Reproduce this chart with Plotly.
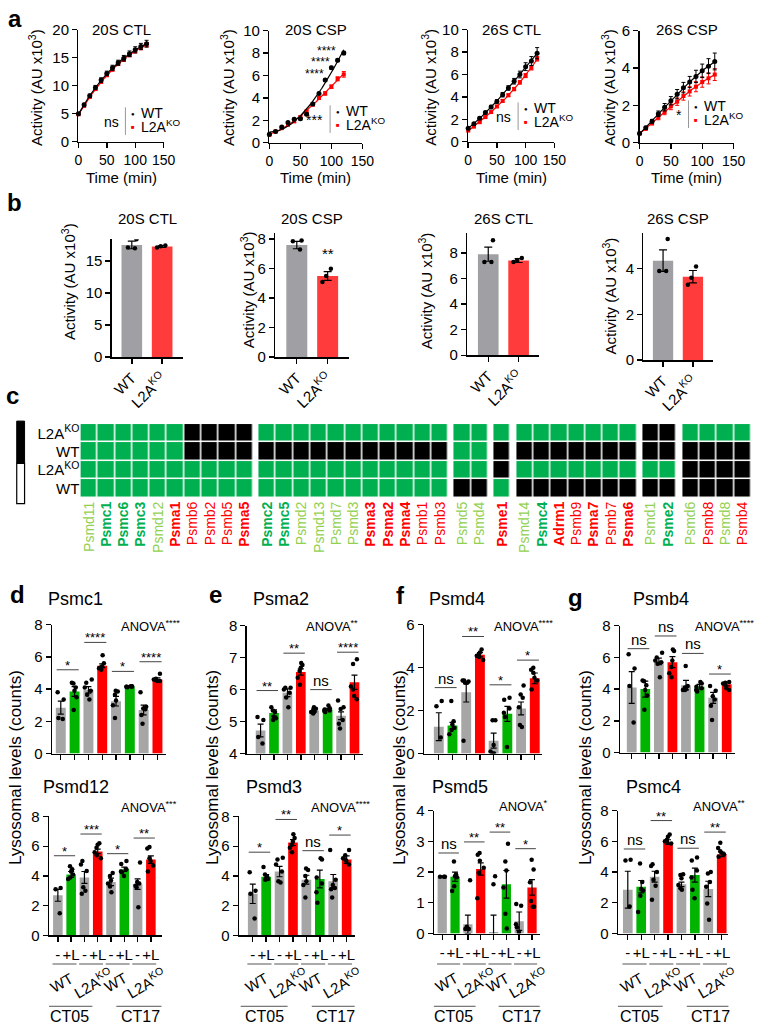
import numpy as np
import plotly.graph_objects as go

W, H = 772, 1032
FONT = "Arial, Liberation Sans, sans-serif"
GRAY, GREEN, RED, LGREEN = "#a6a6a6", "#00b050", "#ff0000", "#92d050"
BGRAY, BRED = "#a0a0a4", "#ff3b3b"

# ---------- a: proteasome activity kinetics (AU x10^3)
time_min = [0, 10, 20, 30, 40, 50, 60, 70, 80, 90, 100, 110, 120]

ctl20_wt = [5.0, 6.6, 8.2, 9.7, 11.0, 12.2, 13.2, 14.1, 14.9, 15.7, 16.4, 17.0, 17.5]
ctl20_wt_sem = [0.2, 0.25, 0.3, 0.35, 0.4, 0.4, 0.45, 0.45, 0.5, 0.5, 0.55, 0.55, 0.6]
ctl20_ko = [4.9, 6.4, 8.0, 9.4, 10.7, 11.9, 12.9, 13.9, 14.7, 15.5, 16.2, 16.8, 17.3]
ctl20_ko_sem = [0.15, 0.2, 0.2, 0.25, 0.25, 0.3, 0.3, 0.3, 0.35, 0.35, 0.35, 0.4, 0.4]

csp20_wt = [0.75, 1.0, 1.4, 1.8, 2.1, 2.15, 2.55, 3.45, 4.4, 5.6, 6.7, 7.35, 8.0]
csp20_wt_sem = [0.05, 0.05, 0.08, 0.08, 0.1, 0.1, 0.12, 0.12, 0.1, 0.1, 0.12, 0.12, 0.15]
csp20_ko = [0.7, 1.0, 1.3, 1.6, 1.9, 2.3, 2.8, 3.4, 4.0, 4.4, 5.0, 5.7, 6.1]
csp20_ko_sem = [0.05, 0.05, 0.05, 0.08, 0.08, 0.1, 0.1, 0.1, 0.12, 0.15, 0.15, 0.18, 0.25]
csp20_star_t = [92, 82, 73]
csp20_star_y = [8.2, 7.2, 6.1]

ctl26_wt = [1.2, 1.6, 2.1, 2.6, 3.1, 3.6, 4.2, 4.8, 5.4, 6.0, 6.7, 7.2, 7.9]
ctl26_wt_sem = [0.05, 0.08, 0.1, 0.12, 0.15, 0.15, 0.2, 0.2, 0.25, 0.3, 0.35, 0.4, 0.5]
ctl26_ko = [1.0, 1.35, 1.75, 2.2, 2.65, 3.15, 3.65, 4.15, 4.7, 5.3, 5.9, 6.6, 7.4]
ctl26_ko_sem = [0.05, 0.05, 0.08, 0.08, 0.1, 0.1, 0.12, 0.12, 0.15, 0.15, 0.18, 0.2, 0.2]

csp26_wt = [0.5, 0.8, 1.15, 1.55, 1.9, 2.25, 2.6, 2.95, 3.25, 3.55, 3.85, 4.1, 4.35]
csp26_wt_sem = [0.05, 0.08, 0.1, 0.15, 0.2, 0.22, 0.25, 0.28, 0.3, 0.33, 0.36, 0.4, 0.45]
csp26_ko = [0.5, 0.75, 1.05, 1.35, 1.65, 1.95, 2.2, 2.5, 2.75, 3.0, 3.25, 3.45, 3.65]
csp26_ko_sem = [0.05, 0.07, 0.1, 0.12, 0.15, 0.18, 0.2, 0.22, 0.25, 0.27, 0.28, 0.3, 0.32]

# ---------- b: activity at end point
geno = ["WT", "L2A<sup>KO</sup>"]
b_ctl20 = [17.5, 17.25]
b_ctl20_sem = [0.6, 0.15]
b_ctl20_pts = [[18.4, 17.1, 17.0], [17.4, 17.3, 17.1]]
b_csp20 = [7.6, 5.5]
b_csp20_sem = [0.25, 0.3]
b_csp20_pts = [[7.9, 7.85, 7.3], [6.0, 5.5, 5.1]]
b_ctl26 = [7.9, 7.4]
b_ctl26_sem = [0.55, 0.15]
b_ctl26_pts = [[9.0, 7.3, 7.3], [7.6, 7.45, 7.3]]
b_csp26 = [4.35, 3.65]
b_csp26_sem = [0.47, 0.27]
b_csp26_pts = [[5.3, 3.9, 3.9], [4.1, 3.6, 3.3]]

# ---------- c: heatmap (1 = green, 0 = black)
genes = ["Psmd11", "Psmc1", "Psmc6", "Psmc3", "Psmd12", "Psma1", "Psmb6", "Psmb2", "Psmb5", "Psma5",
         "Psmc2", "Psmc5", "Psmd2", "Psmd13", "Psmd7", "Psmd3", "Psma3", "Psma2", "Psma4", "Psmb1", "Psmb3",
         "Psmd5", "Psmd4", "Psme1",
         "Psmd14", "Psmc4", "Adrm1", "Psmb9", "Psma7", "Psmb7", "Psma6",
         "Psmd1", "Psme2", "Psmd6", "Psmb8", "Psmd8", "Psmb4"]
gene_style = ["lg", "G", "G", "G", "lg", "R", "r", "r", "r", "R",
              "G", "G", "lg", "lg", "lg", "lg", "R", "R", "R", "r", "r",
              "lg", "lg", "R",
              "lg", "G", "R", "r", "R", "r", "R",
              "lg", "G", "lg", "r", "lg", "r"]
group_sizes = [10, 11, 2, 1, 7, 2, 4]
hm_row_labels = ["L2A<sup>KO</sup>", "WT", "L2A<sup>KO</sup>", "WT"]
hm_r1 = [1, 1, 1, 1, 1, 1, 0, 0, 0, 0, 1, 1, 1, 1, 1, 1, 1, 1, 1, 1, 1, 1, 1, 1,
         1, 1, 1, 1, 1, 1, 1, 0, 0, 1, 1, 1, 1]
hm_r2 = [1, 1, 1, 1, 1, 1, 0, 0, 0, 0, 0, 0, 0, 0, 0, 0, 0, 0, 0, 0, 0, 1, 1, 0,
         0, 0, 0, 0, 0, 0, 0, 0, 0, 0, 0, 0, 0]
hm_r3 = [1, 1, 1, 1, 1, 1, 1, 1, 1, 1, 1, 1, 1, 1, 1, 1, 1, 1, 1, 1, 1, 1, 1, 0,
         1, 1, 1, 1, 1, 1, 1, 1, 1, 0, 0, 0, 0]
hm_r4 = [1, 1, 1, 1, 1, 1, 1, 1, 1, 1, 1, 1, 1, 1, 1, 1, 1, 1, 1, 1, 1, 0, 0, 1,
         0, 0, 0, 0, 0, 0, 0, 0, 0, 0, 0, 0, 0]

# ---------- d-g: lysosomal levels (counts)
treat = ["-", "+L"] * 4
pairs = ["WT", "L2A<sup>KO</sup>"] * 2
timepoints = ["CT05", "CT17"]

psmc1_mean = [2.85, 3.85, 3.95, 5.45, 3.25, 4.15, 2.7, 4.6]
psmc1_sem = [0.4, 0.3, 0.2, 0.12, 0.3, 0.03, 0.3, 0.1]
psmc1_pts = [[3.8, 3.35, 2.2, 2.15], [4.4, 4.35, 4.1, 3.9, 3.5, 2.7], [4.6, 4.4, 4.1, 3.9, 3.65, 3.35],
             [6.1, 5.6, 5.4, 5.35, 5.3, 5.2], [3.9, 3.85, 3.65, 3.3, 3.0, 2.2], [4.18, 4.15, 4.15, 4.12, 4.15, 4.17],
             [3.8, 2.9, 2.8, 2.75, 2.4, 1.85], [4.95, 4.65, 4.6, 4.55, 4.5, 4.5]]
psmc1_sig_y = [5.2, 6.9, 5.1, 5.7]
psmc1_sig = ["*", "****", "*", "****"]

psma2_mean = [4.72, 5.27, 5.9, 6.55, 5.35, 5.38, 5.18, 6.23]
psma2_sem = [0.2, 0.1, 0.12, 0.1, 0.05, 0.03, 0.12, 0.22]
psma2_pts = [[5.14, 5.05, 4.52, 4.31], [5.45, 5.35, 5.3, 5.15, 5.1, 5.05], [6.06, 6.06, 6.0, 5.9, 5.75, 5.45],
             [6.83, 6.77, 6.68, 6.58, 6.37, 6.15], [5.45, 5.4, 5.35, 5.3, 5.3, 5.25], [5.5, 5.42, 5.38, 5.35, 5.33, 5.3],
             [5.66, 5.45, 5.39, 5.05, 4.93, 4.78], [6.95, 6.8, 6.1, 6.0, 5.8, 5.7]]
psma2_sig_y = [5.97, 7.14, 6.0, 7.17]
psma2_sig = ["**", "**", "ns", "****"]

psmd4_mean = [1.25, 1.3, 2.85, 4.6, 0.6, 1.85, 2.1, 3.5]
psmd4_sem = [0.65, 0.15, 0.45, 0.1, 0.35, 0.35, 0.3, 0.25]
psmd4_pts = [[2.45, 2.2, 0.75], [2.45, 1.5, 1.35, 1.2, 1.1, 0.9], [3.4, 3.4, 3.35, 3.3, 3.3, 0.6],
             [4.85, 4.7, 4.6, 4.55, 4.5, 4.35], [1.55, 1.55, 0.4, 0.1, 0.0, 0.0], [2.6, 2.5, 2.1, 1.9, 1.7, 0.3],
             [3.17, 2.75, 2.6, 2.15, 1.33, 1.24], [4.0, 3.9, 3.76, 3.53, 3.4, 2.98]]
psmd4_sig_y = [3.07, 5.45, 3.2, 4.35]
psmd4_sig = ["ns", "**", "*", "*"]

psmb4_mean = [4.1, 4.0, 5.75, 5.7, 4.25, 4.15, 3.45, 4.3]
psmb4_sem = [1.0, 0.5, 0.2, 0.35, 0.3, 0.15, 0.35, 0.1]
psmb4_pts = [[6.2, 5.3, 4.2, 1.9], [4.55, 4.5, 4.25, 3.95, 3.6, 2.7], [6.3, 6.0, 5.8, 5.7, 5.6, 4.75],
             [6.5, 6.4, 5.8, 5.4, 5.0, 4.75], [5.45, 4.2, 4.1, 4.0, 3.95, 3.95], [4.45, 4.35, 4.15, 4.05, 3.95, 3.85],
             [4.2, 3.9, 3.55, 3.35, 2.95, 2.05], [4.45, 4.4, 4.35, 4.25, 4.05, 3.95]]
psmb4_sig_y = [6.55, 7.35, 6.25, 4.95]
psmb4_sig = ["ns", "ns", "ns", "*"]

psmd12_mean = [2.7, 4.1, 3.9, 5.65, 3.6, 4.45, 3.45, 5.1]
psmd12_sem = [0.4, 0.2, 0.4, 0.15, 0.25, 0.15, 0.35, 0.25]
psmd12_pts = [[3.2, 3.1, 1.5], [4.65, 4.45, 4.3, 4.1, 3.9, 3.8], [5.0, 4.77, 4.33, 3.24, 3.0, 2.8],
              [6.2, 6.1, 5.9, 5.6, 5.4, 5.2], [4.2, 4.0, 3.7, 3.5, 3.3, 2.9], [5.0, 4.8, 4.45, 4.3, 4.25, 4.0],
              [4.9, 3.6, 3.5, 3.35, 3.25, 1.9], [5.95, 5.85, 5.2, 5.0, 4.7, 4.3]]
psmd12_sig_y = [5.36, 6.82, 5.5, 6.55]
psmd12_sig = ["*", "***", "*", "**"]

psmd3_mean = [2.8, 3.95, 4.3, 6.25, 3.75, 3.8, 3.65, 5.1]
psmd3_sem = [0.65, 0.15, 0.35, 0.2, 0.3, 0.6, 0.45, 0.25]
psmd3_pts = [[4.25, 3.0, 2.8, 1.15], [4.6, 4.1, 3.95, 3.85, 3.8, 3.75], [5.23, 5.1, 4.77, 4.3, 3.65, 3.57],
             [6.8, 6.55, 6.3, 6.1, 5.9, 5.6], [4.5, 4.4, 4.0, 3.65, 3.4, 2.55], [5.2, 5.1, 3.9, 3.5, 2.9, 2.2],
             [5.75, 3.75, 3.4, 3.2, 3.1, 2.55], [5.75, 5.4, 5.2, 5.1, 5.0, 4.77]]
psmd3_sig_y = [5.6, 7.8, 5.7, 6.75]
psmd3_sig = ["*", "**", "ns", "*"]

psmd5_mean = [1.85, 1.85, 0.3, 2.1, 0.05, 1.6, 0.4, 1.5]
psmd5_sem = [0.02, 0.15, 0.3, 0.2, 0.55, 0.45, 0.3, 0.25]
psmd5_pts = [[1.85, 1.85, 1.85], [2.34, 1.92, 1.86, 1.83, 1.54, 1.38], [1.73, 0.22, 0.15, 0.15],
             [2.62, 2.56, 2.37, 2.14, 1.98, 1.15], [1.86, 1.6], [2.92, 2.34, 2.05, 1.5, 0.64, 0.16],
             [0.96, 0.9, 0.3, 0.2, 0.05], [2.4, 2.08, 1.67, 1.06, 0.87, 0.87]]
psmd5_sig_y = [2.62, 2.98, 3.3, 2.76]
psmd5_sig = ["ns", "**", "**", "*"]

psmc4_mean = [2.85, 3.05, 3.7, 5.95, 3.2, 3.8, 2.9, 5.15]
psmc4_sem = [1.2, 0.4, 0.35, 0.15, 0.15, 0.45, 0.5, 0.15]
psmc4_pts = [[4.8, 4.75, 1.75], [4.55, 3.35, 2.9, 2.8, 2.45, 1.4], [4.5, 4.4, 4.0, 3.5, 3.1, 2.2],
             [6.45, 6.3, 6.1, 6.0, 5.95, 5.85], [3.85, 3.8, 3.6, 3.15, 2.95, 2.85], [4.95, 4.75, 4.1, 3.65, 2.85, 2.3],
             [4.0, 3.9, 3.35, 3.05, 1.95, 0.9], [5.9, 5.57, 5.35, 5.25, 5.15, 5.0]]
psmc4_sig_y = [5.5, 7.35, 5.55, 6.6]
psmc4_sig = ["ns", "**", "ns", "**"]

fig = go.Figure()

AX = dict(showline=True, linecolor="black", linewidth=1.4, ticks="outside", ticklen=5,
          tickwidth=1.4, tickcolor="black", showgrid=False, zeroline=False,
          tickfont=dict(size=15, color="black"))


def add_axes(n, xpx, ypx, xrange, yrange, xopt=None, yopt=None):
    s = "" if n == 1 else str(n)
    xa = dict(AX, domain=[xpx[0] / W, xpx[1] / W], range=xrange, anchor="y" + s)
    ya = dict(AX, domain=[1 - ypx[1] / H, 1 - ypx[0] / H], range=yrange, anchor="x" + s)
    xa.update(xopt or {})
    ya.update(yopt or {})
    fig.update_layout({"xaxis" + s: xa, "yaxis" + s: ya})
    return "x" + s, "y" + s


def note(px, py, s, size=15, color="black", **kw):
    kw.setdefault("xanchor", "center")
    kw.setdefault("yanchor", "middle")
    fig.add_annotation(x=px / W, y=1 - py / H, xref="paper", yref="paper", text=s,
                       showarrow=False, font=dict(size=size, color=color), **kw)


def seg(x0, y0, x1, y1, color="black", width=1.2):
    fig.add_shape(type="line", xref="paper", yref="paper", x0=x0 / W, x1=x1 / W,
                  y0=1 - y0 / H, y1=1 - y1 / H, line=dict(color=color, width=width))


def dots(xr, yr, pts, width, jitter, size=4.5):
    xs = [i for i, p in enumerate(pts) for _ in p]
    ys = [v for p in pts for v in p]
    fig.add_trace(go.Box(x=xs, y=ys, boxpoints="all", jitter=jitter, pointpos=0, width=width,
                         fillcolor="rgba(0,0,0,0)", line=dict(width=0, color="rgba(0,0,0,0)"),
                         marker=dict(color="black", size=size), xaxis=xr, yaxis=yr, hoverinfo="skip"))


# ---------- panel a
a_panels = [
    ("20S CTL", ctl20_wt, ctl20_wt_sem, ctl20_ko, ctl20_ko_sem, 20, 5, "ns"),
    ("20S CSP", csp20_wt, csp20_wt_sem, csp20_ko, csp20_ko_sem, 10, 2, "***"),
    ("26S CTL", ctl26_wt, ctl26_wt_sem, ctl26_ko, ctl26_ko_sem, 10, 2, "ns"),
    ("26S CSP", csp26_wt, csp26_wt_sem, csp26_ko, csp26_ko_sem, 6, 2, "*"),
]
a_xpx = [(76, 163), (271, 366), (474, 562), (649, 745)]
a_ypx = [(21, 135), (22, 136), (21, 135), (22, 136)]
a_ytitle_x = [32, 228, 434, 617]
a_key = [(124, 100), (333, 98), (525, 95), (699, 93)]

t = np.array(time_min, dtype=float)
tt = np.linspace(0, 120, 81)
for k, (title, wt, wte, ko, koe, ymax, dt, sig) in enumerate(a_panels):
    xr, yr = add_axes(k + 1, a_xpx[k], a_ypx[k], [0, 150], [0, ymax],
                      dict(dtick=50, tick0=0, tickangle=0, tickfont=dict(size=14)), dict(dtick=dt, tick0=0))
    for vals, err, col, sym, sz in ((ko, koe, RED, "square", 4), (wt, wte, "black", "circle", 5)):
        fit = np.polyval(np.polyfit(t, vals, 3), tt)
        fig.add_trace(go.Scatter(x=tt, y=fit, mode="lines", line=dict(color=col, width=1.2),
                                 xaxis=xr, yaxis=yr, hoverinfo="skip"))
        fig.add_trace(go.Scatter(x=time_min, y=vals, mode="markers",
                                 marker=dict(color=col, size=sz, symbol=sym),
                                 error_y=dict(type="data", array=err, color=col, thickness=1, width=2),
                                 cliponaxis=False, xaxis=xr, yaxis=yr))
    cx = sum(a_xpx[k]) / 2
    note(cx, 21, title)
    note(cx, 171, "Time (min)")
    note(a_ytitle_x[k], 80, "Activity (AU x10<sup>3</sup>)", textangle=-90)
    lx, ly = a_key[k]
    seg(lx, ly, lx, ly + 28, color="#999999", width=1)
    note(lx - 5, ly + 15, sig, xanchor="right", size=14)
    note(lx + 8, ly + 7, "●", size=6)
    note(lx + 8, ly + 20, "■", size=6, color=RED)
    note(lx + 14, ly + 6, "WT", xanchor="left", size=14)
    note(lx + 14, ly + 19, "L2A<sup>KO</sup>", xanchor="left", size=14)

for st, sy in zip(csp20_star_t, csp20_star_y):
    fig.add_annotation(x=st, y=sy, xref="x2", yref="y2", text="****", showarrow=False,
                       xanchor="center", yanchor="middle", font=dict(size=12, color="black"))

# ---------- panel b
b_panels = [
    ("20S CTL", b_ctl20, b_ctl20_sem, b_ctl20_pts, 18.4, 5),
    ("20S CSP", b_csp20, b_csp20_sem, b_csp20_pts, 8.4, 2),
    ("26S CTL", b_ctl26, b_ctl26_sem, b_ctl26_pts, 9.54, 2),
    ("26S CSP", b_csp26, b_csp26_sem, b_csp26_pts, 5.55, 2),
]
b_ypx = [(234, 354), (228, 354), (228, 352), (228, 357)]
b_left = [110, 277, 473, 653]
b_c0 = [130.5, 299, 494.5, 673]
b_step = [31, 31.5, 31, 30.5]
b_ytitle = [(66, 277), (248, 285), (430, 287), (618, 292)]
for k, (title, vals, sem, pts, ymax, dt) in enumerate(b_panels):
    lo = (b_left[k] - b_c0[k]) / b_step[k]
    hi = 1.68
    right = b_left[k] + (hi - lo) * b_step[k]
    xr, yr = add_axes(5 + k, (b_left[k], right), b_ypx[k], [lo, hi], [0, ymax],
                      dict(tickvals=[0, 1], ticktext=geno, tickangle=-45),
                      dict(dtick=dt, tick0=0))
    fig.add_trace(go.Bar(x=[0, 1], y=vals, width=0.68, marker=dict(color=[BGRAY, BRED], line=dict(width=0)),
                         error_y=dict(type="data", array=sem, color="black", thickness=1.2, width=4),
                         xaxis=xr, yaxis=yr))
    dots(xr, yr, pts, 0.5, 0.8)
    note((b_left[k] + right) / 2, 213, title)
    note(b_ytitle[k][0], b_ytitle[k][1], "Activity (AU x10<sup>3</sup>)", textangle=-90)
fig.add_annotation(x=1, y=7.0, xref="x6", yref="y6", text="**", showarrow=False,
                   xanchor="center", yanchor="middle", font=dict(size=15, color="black"))

# ---------- panel c (heatmap)
GAP = 0.3
rows_bottom_up = [hm_r4, hm_r3, hm_r2, hm_r1]
z = [[] for _ in rows_bottom_up]
edges = [0.0]
centers = []
col = 0
for g, size in enumerate(group_sizes):
    if g > 0:
        for r in z:
            r.append(None)
        edges.append(edges[-1] + GAP)
    for _ in range(size):
        for r, src in zip(z, rows_bottom_up):
            r.append(src[col])
        centers.append(edges[-1] + 0.5)
        edges.append(edges[-1] + 1)
        col += 1

style_map = {"lg": (LGREEN, False), "G": (GREEN, True), "R": (RED, True), "r": (RED, False)}
gene_text = []
for name, st in zip(genes, gene_style):
    c, bold = style_map[st]
    s = f'<span style="color:{c}">{name}</span>'
    gene_text.append(f"<b>{s}</b>" if bold else s)

xr, yr = add_axes(9, (78, 763), (422, 497), [0, edges[-1]], [-0.5, 3.5],
                  dict(showline=False, ticks="", tickvals=centers, ticktext=gene_text, tickangle=-90,
                       tickfont=dict(size=14)),
                  dict(showline=False, ticks="", tickvals=[0, 1, 2, 3], ticktext=hm_row_labels[::-1],
                       tickfont=dict(size=15)))
fig.add_trace(go.Heatmap(x=edges, y=[-0.5, 0.5, 1.5, 2.5, 3.5], z=z, zmin=0, zmax=1,
                         colorscale=[[0, "black"], [0.5, "black"], [0.5, GREEN], [1, GREEN]],
                         showscale=False, xgap=1.5, ygap=1.5, xaxis=xr, yaxis=yr, hoverinfo="skip"))
fig.add_shape(type="rect", xref="paper", yref="paper", x0=13 / W, x1=21 / W, y0=1 - 462 / H, y1=1 - 419 / H,
              fillcolor="black", line=dict(color="black", width=1))
fig.add_shape(type="rect", xref="paper", yref="paper", x0=13 / W, x1=21 / W, y0=1 - 503 / H, y1=1 - 462 / H,
              fillcolor="white", line=dict(color="black", width=1.2))

# ---------- panels d-g
dg_panels = [
    ("Psmc1", psmc1_mean, psmc1_sem, psmc1_pts, psmc1_sig_y, psmc1_sig, "****", [0, 8], 2),
    ("Psma2", psma2_mean, psma2_sem, psma2_pts, psma2_sig_y, psma2_sig, "**", [4, 8], 1),
    ("Psmd4", psmd4_mean, psmd4_sem, psmd4_pts, psmd4_sig_y, psmd4_sig, "****", [0, 6], 2),
    ("Psmb4", psmb4_mean, psmb4_sem, psmb4_pts, psmb4_sig_y, psmb4_sig, "****", [0, 8], 2),
    ("Psmd12", psmd12_mean, psmd12_sem, psmd12_pts, psmd12_sig_y, psmd12_sig, "***", [0, 8], 2),
    ("Psmd3", psmd3_mean, psmd3_sem, psmd3_pts, psmd3_sig_y, psmd3_sig, "****", [0, 8], 2),
    ("Psmd5", psmd5_mean, psmd5_sem, psmd5_pts, psmd5_sig_y, psmd5_sig, "*", [0, 4], 1),
    ("Psmc4", psmc4_mean, psmc4_sem, psmc4_pts, psmc4_sig_y, psmc4_sig, "**", [0, 8], 2),
]
# left px, first bar px, step px, right limit, y top px, y bottom px, title xy, anova xy
dg_geom = [
    (49, 58, 14.1, 7.6, 626, 757, (43, 600), (150, 627)),
    (248, 262, 13.7, 7.6, 627, 757, (252, 600), (335, 627)),
    (429, 444, 14.0, 7.5, 626, 757, (432, 600), (530, 627)),
    (629, 641, 13.86, 7.6, 627, 756, (640, 600), (736, 627)),
    (46, 55, 13.57, 7.8, 821, 942, (38, 791), (148, 811)),
    (240, 254, 13.7, 7.6, 821, 942, (245, 791), (344, 811)),
    (439, 447.5, 13.1, 7.6, 815, 940, (435, 791), (531, 810)),
    (627, 637, 13.7, 7.5, 815, 940, (633, 791), (730, 810)),
]
bar_cols = [GRAY, "#00b400", GRAY, RED] * 2

for k, (title, mean, sem, pts, sig_y, sig, anova, yrange, dt) in enumerate(dg_panels):
    left, c0, step, hi, ytop, ybot, tpos, apos = dg_geom[k]
    lo = (left - c0) / step
    right = left + (hi - lo) * step
    bottom = k >= 4
    xopt = dict(tickvals=list(range(8)), ticktext=treat, showticklabels=bottom, tickangle=0)
    xr, yr = add_axes(10 + k, (left, right), (ytop, ybot), [lo, hi], yrange, xopt,
                      dict(dtick=dt, tick0=0))
    fig.add_trace(go.Bar(x=list(range(8)), y=mean, width=0.72, marker=dict(color=bar_cols, line=dict(width=0)),
                         error_y=dict(type="data", array=sem, color="black", thickness=1.2, width=3),
                         xaxis=xr, yaxis=yr))
    dots(xr, yr, pts, 0.6, 0.9, size=4.5)
    for p, (yv, lab) in enumerate(zip(sig_y, sig)):
        c = 2 * p + 0.5
        fig.add_shape(type="line", xref=xr, yref=yr, x0=c - 0.8, x1=c + 0.8, y0=yv, y1=yv,
                      line=dict(color="#444444", width=1))
        star = lab != "ns"
        fig.add_annotation(x=c, y=yv, xref=xr, yref=yr, text=lab, showarrow=False,
                           xanchor="center", yanchor="bottom",
                           yshift=-5 if star else -1, font=dict(size=13 if star else 15, color="black"))
    note(tpos[0], tpos[1], title, size=18, xanchor="left")
    note(apos[0], apos[1], f"ANOVA<sup>{anova}</sup>", size=13)
    if bottom:
        for p in range(4):
            c = 2 * p + 0.5
            fig.add_shape(type="line", xref=xr, yref="paper", x0=c - 0.9, x1=c + 0.9,
                          y0=1 - 971 / H, y1=1 - 971 / H, line=dict(color="#555555", width=1))
            fig.add_annotation(x=c + (-0.2 if p % 2 == 0 else 0.15), y=1 - 990 / H, xref=xr, yref="paper",
                               text=pairs[p], textangle=-30, showarrow=False,
                               xanchor="center", yanchor="middle",
                               font=dict(size=15, color="black"))
        for (x0, x1), lab in zip(((-0.9, 2.6), (4.4, 8.0)), timepoints):
            fig.add_shape(type="line", xref=xr, yref="paper", x0=x0, x1=x1,
                          y0=1 - 1014 / H, y1=1 - 1014 / H, line=dict(color="#555555", width=1))
            fig.add_annotation(x=(x0 + x1) / 2, y=1 - 1024 / H, xref=xr, yref="paper", text=lab,
                               showarrow=False, xanchor="center", yanchor="middle",
                               font=dict(size=16, color="black"))

for x in (12, 213, 404, 594):
    note(x, 771, "Lysosomal levels (counts)", size=17, textangle=-90)

for lab, (x, y) in zip("abcdefg", [(11, 10), (11, 197), (9, 393), (14, 595), (216, 595), (405, 596), (584, 598)]):
    note(x, y, f"<b>{lab}</b>", size=24)

fig.update_layout(width=W, height=H, margin=dict(l=0, r=0, t=0, b=0), showlegend=False,
                  paper_bgcolor="white", plot_bgcolor="white",
                  font=dict(family=FONT, color="black"))
fig.write_html("out.html", config={"displayModeBar": False, "staticPlot": True},
               post_script="document.body.style.margin='0px';")
